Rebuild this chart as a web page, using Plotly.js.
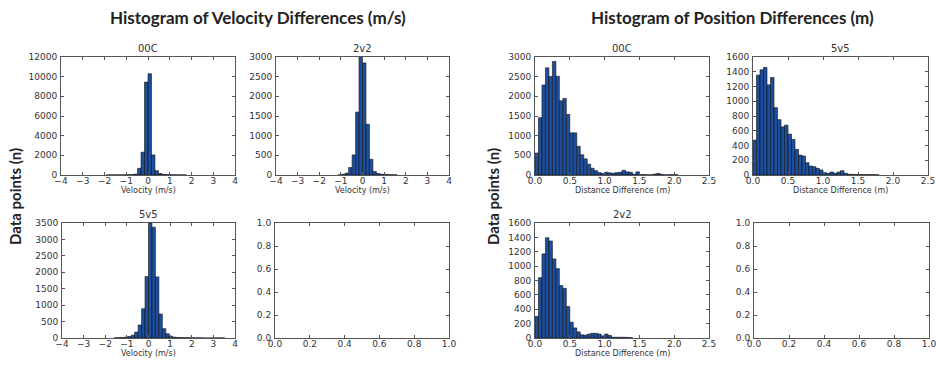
<!DOCTYPE html>
<html><head><meta charset="utf-8">
<script src="https://cdn.plot.ly/plotly-3.0.1.min.js"></script>
<style>html,body{margin:0;padding:0;background:#fff}#chart{width:936px;height:370px}</style>
</head><body><div id="chart"></div>
<script>
// ---- data ----
const velBinWidth = 0.16;
const posBinWidth = 0.05;

const vel00cStart = -1.92;
const vel00cCounts = [5,10,10,15,15,20,30,40,90,680,2320,9450,10300,2040,440,150,60,40,30,20,15,10,10];

const vel2v2Start = -1.12;
const vel2v2Counts = [5,20,50,190,510,1600,3050,2850,1290,400,90,40,20,15,10,8,5];

const vel5v5Start = -1.6;
const vel5v5Counts = [5,10,15,25,45,85,180,395,890,1870,3500,3370,1860,730,285,130,50,25,15,10,10,8,6,5,5,4,0,0,3,4,4,3];

const pos00cStart = 0;
const pos00cCounts = [557,1457,2288,2725,2502,2888,2510,1885,1945,1540,1071,1071,728,514,411,274,171,111,
  60,40,70,55,45,60,70,120,80,70,20,80,10,10,5,5,25,40,15,5,5,10,10];

const pos5v5Start = 0;
const pos5v5Counts = [473,1354,1427,1459,1222,1322,912,750,653,676,554,482,347,270,257,167,122,113,90,68,
  32,23,40,23,40,58,23,10,8,8,6,6,5,5,5,3];

const pos2v2Start = 0;
const pos2v2Counts = [300,840,1170,1395,1350,1100,965,730,690,437,220,140,85,45,40,55,65,65,55,30,55,35,10,10,10,10,8,5];

const mainTitles = ["Histogram of Velocity Differences (m/s)", "Histogram of Position Differences (m)"];
const yTitle = "Data points (n)";
const velXTitle = "Velocity (m/s)";
const posXTitle = "Distance Difference (m)";
const panelNames = ["00C", "2v2", "5v5", "00C", "5v5", "2v2"];

// ---- helpers ----
const W = 936, H = 370;
function centers(start, width, counts){ return counts.map((_, i) => start + (i + 0.5) * width); }
function dx(a, b){ return [a / W, b / W]; }
function dy(top, bottom){ return [1 - bottom / H, 1 - top / H]; }

const barColor = '#1d4f9e';
function histTrace(start, width, counts, n){
  return {
    type: 'bar', x: centers(start, width, counts), y: counts, width: width,
    xaxis: 'x' + (n === 1 ? '' : n), yaxis: 'y' + (n === 1 ? '' : n),
    marker: {color: barColor, line: {color: '#111', width: 0.6}},
    hoverinfo: 'skip', showlegend: false
  };
}

const traces = [
  histTrace(vel00cStart, velBinWidth, vel00cCounts, 1),
  histTrace(vel2v2Start, velBinWidth, vel2v2Counts, 2),
  histTrace(vel5v5Start, velBinWidth, vel5v5Counts, 3),
  histTrace(pos00cStart, posBinWidth, pos00cCounts, 5),
  histTrace(pos5v5Start, posBinWidth, pos5v5Counts, 6),
  histTrace(pos2v2Start, posBinWidth, pos2v2Counts, 7),
  {type:'scatter', x:[], y:[], xaxis:'x4', yaxis:'y4', showlegend:false},
  {type:'scatter', x:[], y:[], xaxis:'x8', yaxis:'y8', showlegend:false}
];

const tickFont = {family: 'DejaVu Sans', size: 9, color: '#333'};
function ax(isX, domain, range, dtick, anchor, fmt){
  const a = {
    domain: domain, range: range, dtick: dtick, tick0: 0, anchor: anchor,
    showline: true, mirror: 'allticks', linecolor: '#555', linewidth: 1,
    ticks: 'inside', ticklen: 3, tickcolor: '#555', tickwidth: 1,
    showgrid: false, zeroline: false, fixedrange: true,
    tickfont: tickFont, ticklabeloverflow: 'allow',
    ticklabelstandoff: isX ? -3 : 1,
    tickformat: fmt || 'd'
  };
  return a;
}

const panels = [
  // [x0,x1,top,bottom, xrange, xdtick, yrange, ydtick, xfmt, yfmt]
  [61, 235, 57, 175, [-4,4], 1, [0,12000], 2000, 'd', 'd'],
  [276, 449, 57, 175, [-4,4], 1, [0,3000], 500, 'd', 'd'],
  [62, 235, 223, 338, [-4,4], 1, [0,3500], 500, 'd', 'd'],
  [275, 449, 223, 338, [0,1], 0.2, [0,1], 0.2, '.1f', '.1f'],
  [535, 709, 57, 175, [0,2.5], 0.5, [0,3000], 500, '.1f', 'd'],
  [753, 928, 57, 175, [0,2.5], 0.5, [0,1600], 200, '.1f', 'd'],
  [535, 709, 223, 338, [0,2.5], 0.5, [0,1600], 200, '.1f', 'd'],
  [754, 929, 223, 338, [0,1], 0.2, [0,1], 0.2, '.1f', '.1f']
];

const layout = {
  width: W, height: H, margin: {l:0, r:0, t:0, b:0},
  paper_bgcolor: '#fff', plot_bgcolor: '#fff', showlegend: false,
  annotations: []
};

panels.forEach((p, i) => {
  const n = i + 1, s = n === 1 ? '' : n;
  layout['xaxis' + s] = ax(true, dx(p[0], p[1]), p[4], p[5], 'y' + s, p[8]);
  layout['yaxis' + s] = ax(false, dy(p[2], p[3]), p[6], p[7], 'x' + s, p[9]);
});

function note(text, xpx, ypx, font, extra){
  layout.annotations.push(Object.assign({
    text: text, xref: 'paper', yref: 'paper', x: xpx / W, y: 1 - ypx / H,
    xanchor: 'center', yanchor: 'middle', showarrow: false, font: font
  }, extra || {}));
}

const titleFont = {family: 'Lato', size: 17, color: '#222', weight: 'bold'};
const yTitleFont = {family: 'Lato', size: 15, color: '#222', weight: 'bold'};
const subFont = {family: 'DejaVu Sans', size: 10, color: '#333'};
const xtFont = {family: 'DejaVu Sans', size: 8, color: '#333'};

note('<b>' + mainTitles[0] + '</b>', 258, 18, titleFont);
note('<b>' + mainTitles[1] + '</b>', 732, 18, titleFont);
note('<b>' + yTitle + '</b>', 15, 197, yTitleFont, {textangle: -90});
note('<b>' + yTitle + '</b>', 493, 197, yTitleFont, {textangle: -90});

const titled = [0, 1, 2, 4, 5, 6];
titled.forEach((pi, k) => {
  const p = panels[pi];
  note(panelNames[k], (p[0] + p[1]) / 2, p[2] - 8, subFont);
});
[[0, velXTitle], [1, velXTitle], [2, velXTitle], [4, posXTitle], [5, posXTitle], [6, posXTitle]].forEach(([pi, t]) => {
  const p = panels[pi];
  note(t, (p[0] + p[1]) / 2, p[3] + 15, xtFont);
});

Plotly.newPlot('chart', traces, layout, {staticPlot: true, displayModeBar: false});
</script>
</body></html>
